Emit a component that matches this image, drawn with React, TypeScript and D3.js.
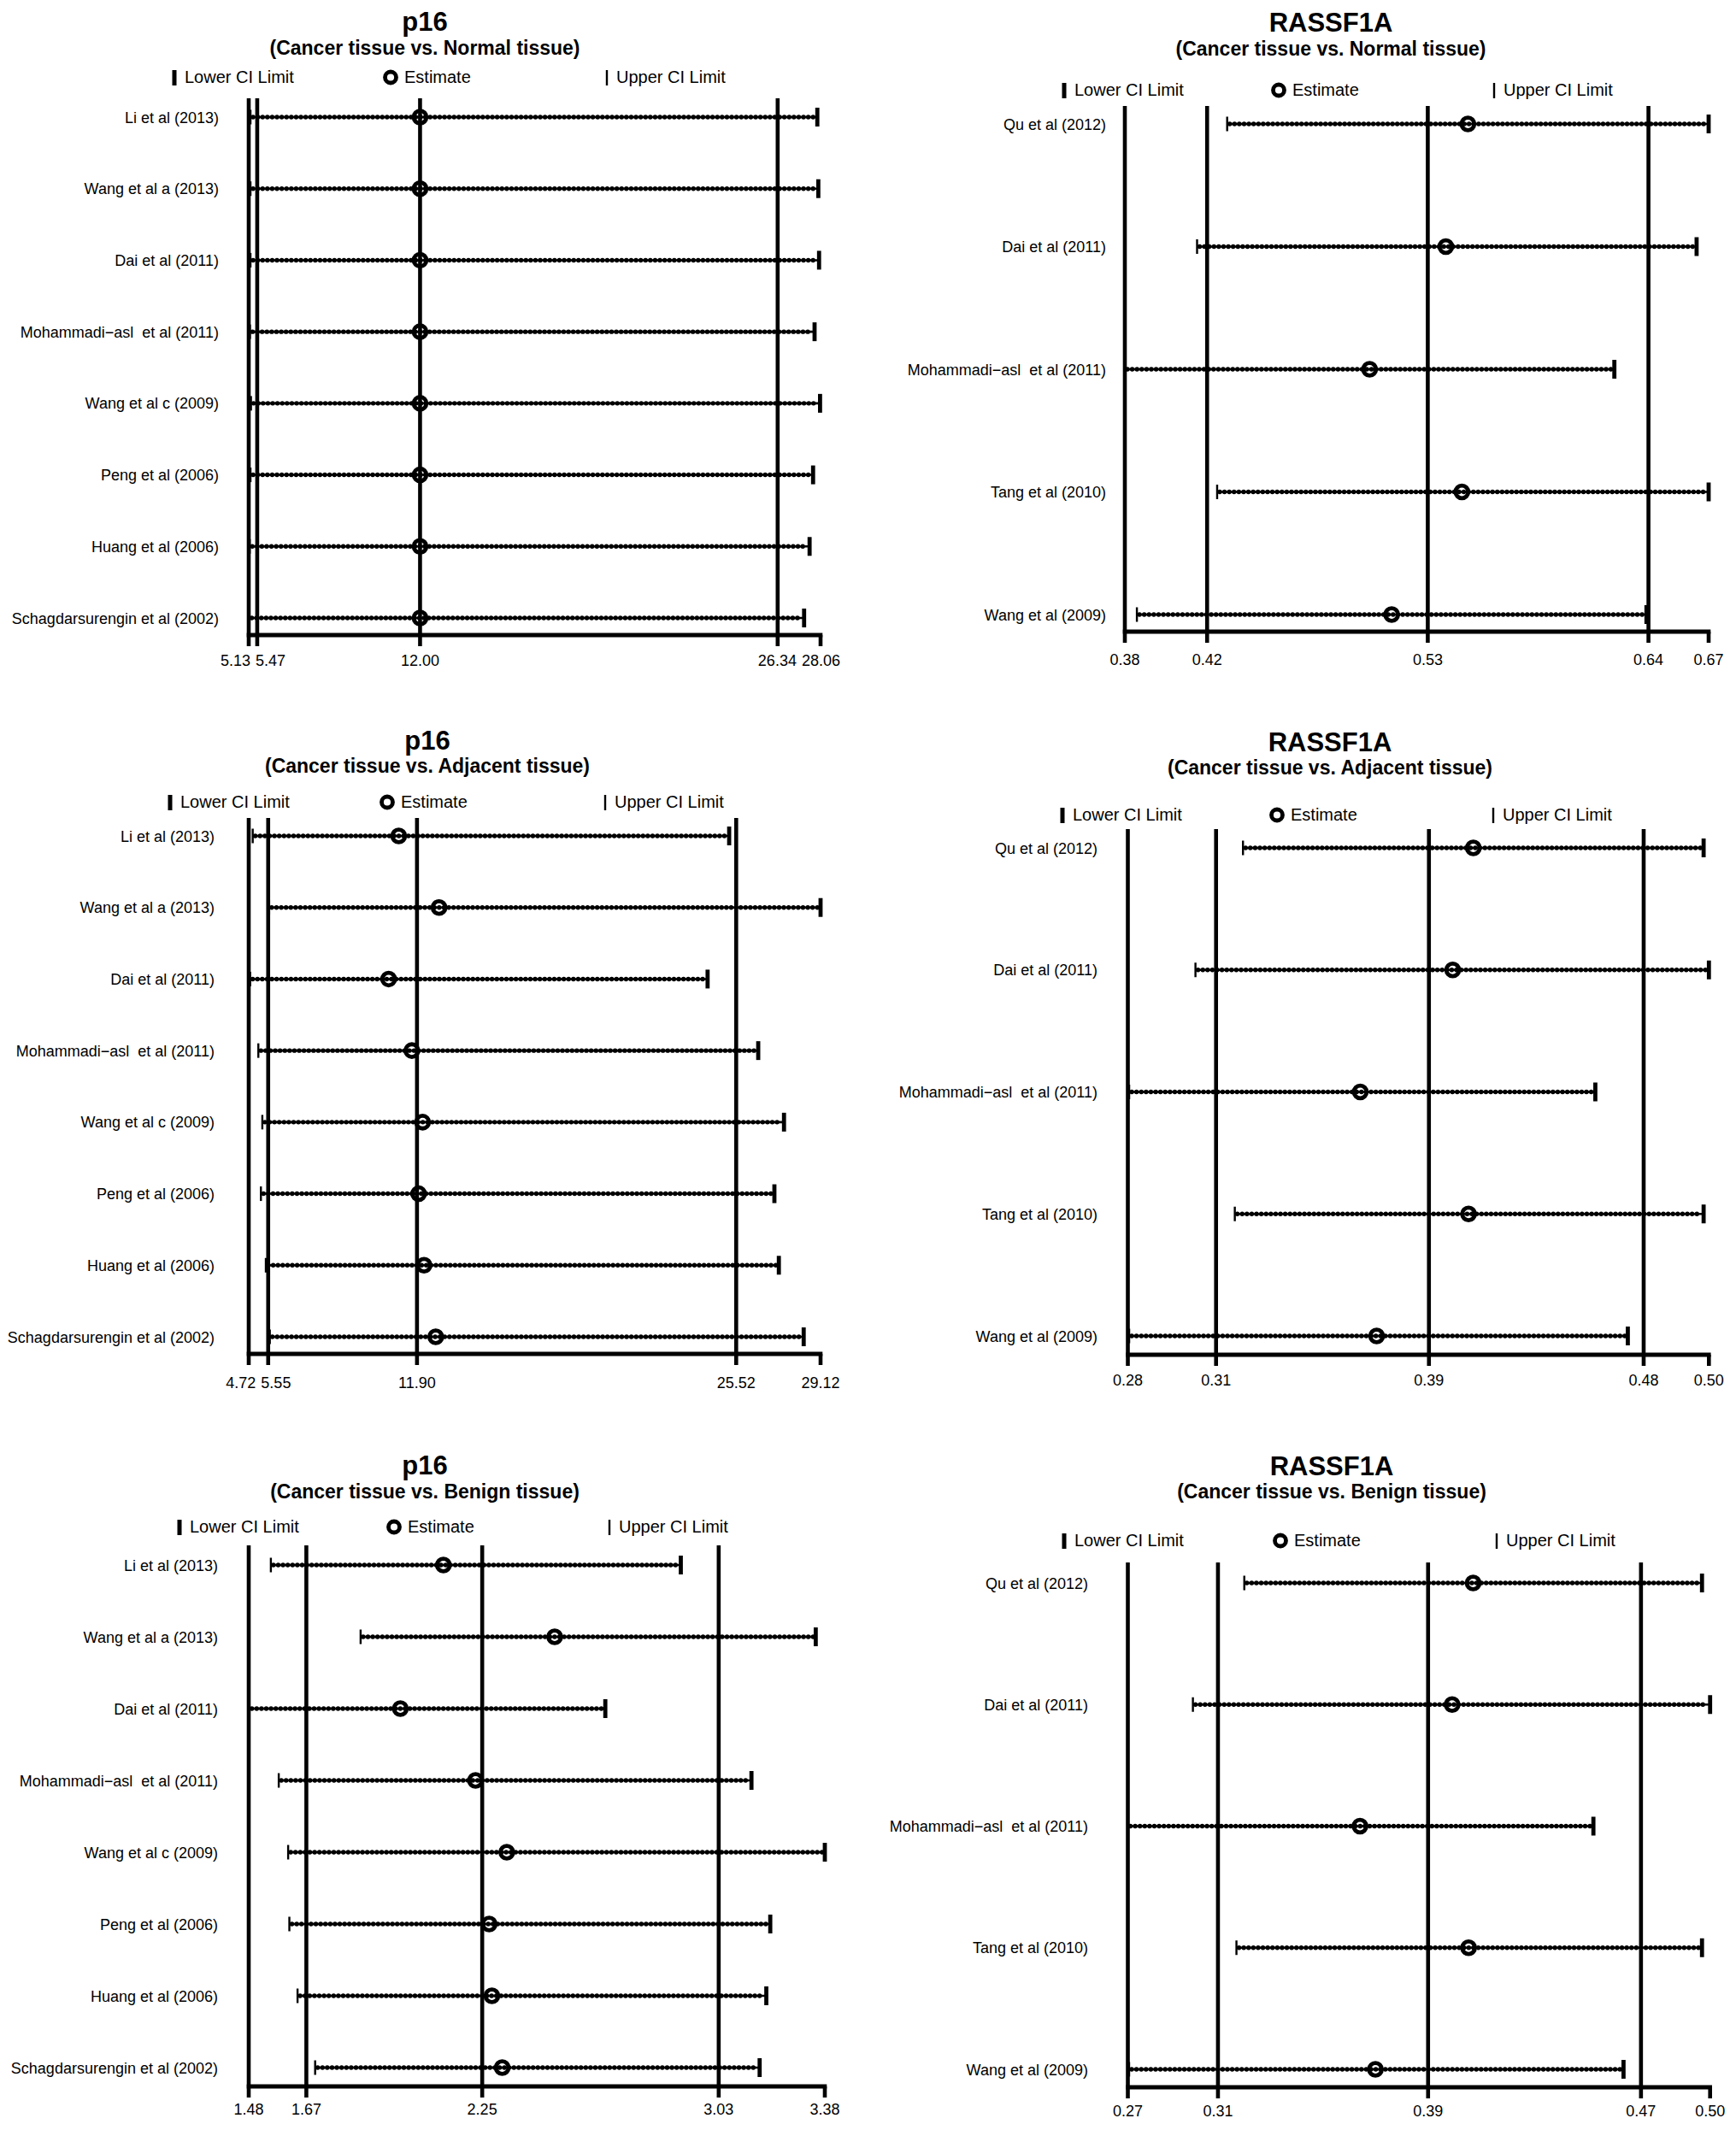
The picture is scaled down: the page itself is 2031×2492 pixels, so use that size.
import React from 'react';
import * as d3 from 'd3';

// ---------- data ----------
const p16Studies = [
  'Li et al (2013)',
  'Wang et al a (2013)',
  'Dai et al (2011)',
  'Mohammadi\u2212asl  et al (2011)',
  'Wang et al c (2009)',
  'Peng et al (2006)',
  'Huang et al (2006)',
  'Schagdarsurengin et al (2002)',
];
const rassf1aStudies = [
  'Qu et al (2012)',
  'Dai et al (2011)',
  'Mohammadi\u2212asl  et al (2011)',
  'Tang et al (2010)',
  'Wang et al (2009)',
];

// p16, cancer vs normal
const p16NormalLower = [5.2, 5.2, 5.2, 5.18, 5.22, 5.2, 5.17, 5.15];
const p16NormalEst = [12.0, 12.0, 12.0, 12.0, 12.0, 12.0, 12.0, 12.0];
const p16NormalUpper = [27.93, 27.97, 28.0, 27.82, 28.04, 27.76, 27.62, 27.4];
const p16NormalTicks = [5.13, 5.47, 12.0, 26.34, 28.06];

// RASSF1A, cancer vs normal
const rasNormalLower = [0.43, 0.415, 0.379, 0.425, 0.385];
const rasNormalEst = [0.55, 0.539, 0.501, 0.547, 0.512];
const rasNormalUpper = [0.67, 0.664, 0.623, 0.67, 0.639];
const rasNormalTicks = [0.379, 0.42, 0.53, 0.64, 0.67];

// p16, cancer vs adjacent
const p16AdjLower = [4.89, 5.59, 4.78, 5.13, 5.3, 5.24, 5.45, 5.62];
const p16AdjEst = [11.12, 12.84, 10.69, 11.68, 12.14, 11.97, 12.2, 12.7];
const p16AdjUpper = [25.22, 29.12, 24.3, 26.46, 27.56, 27.15, 27.34, 28.4];
const p16AdjTicks = [4.72, 5.55, 11.9, 25.52, 29.12];

// RASSF1A, cancer vs adjacent
const rasAdjLower = [0.3236, 0.3056, 0.2805, 0.3205, 0.2805];
const rasAdjEst = [0.4108, 0.403, 0.368, 0.409, 0.3742];
const rasAdjUpper = [0.498, 0.5, 0.457, 0.498, 0.4693];
const rasAdjTicks = [0.28, 0.3134, 0.394, 0.4753, 0.5];

// p16, cancer vs benign
const p16BenLower = [1.553, 1.849, 1.482, 1.579, 1.61, 1.614, 1.641, 1.699];
const p16BenEst = [2.122, 2.489, 1.98, 2.228, 2.331, 2.273, 2.282, 2.316];
const p16BenUpper = [2.905, 3.35, 2.656, 3.138, 3.38, 3.2, 3.187, 3.165];
const p16BenTicks = [1.48, 1.67, 2.25, 3.03, 3.38];

// RASSF1A, cancer vs benign
const rasBenLower = [0.316, 0.2957, 0.27, 0.3129, 0.2705];
const rasBenEst = [0.4064, 0.3981, 0.3617, 0.4046, 0.3678];
const rasBenUpper = [0.4968, 0.5, 0.4539, 0.4968, 0.4658];
const rasBenTicks = [0.27, 0.3056, 0.3886, 0.4727, 0.5];

const legendLabels = ['Lower CI Limit', 'Estimate', 'Upper CI Limit'];

// ---------- layout ----------
const FONT = "'Liberation Sans', Arial, Helvetica, sans-serif";
const W = 2031;
const H = 2492;

type Layout = {
  titleX: number; titleY: number; subY: number; legendY: number; marks: number[];
  lineTop: number; rowTop: number; rowBottom: number; axisY: number; tickLabelY: number;
  x0: number; x1: number; labelRight: number;
};

type Spec = {
  gene: string; comparison: string; studies: string[];
  lower: number[]; est: number[]; upper: number[]; ticks: number[]; layout: Layout;
};

const specs: Spec[] = [
  {
    gene: 'p16', comparison: '(Cancer tissue vs. Normal tissue)', studies: p16Studies,
    lower: p16NormalLower, est: p16NormalEst, upper: p16NormalUpper, ticks: p16NormalTicks,
    layout: { titleX: 497, titleY: 36, subY: 64, legendY: 97, marks: [204, 457, 710], lineTop: 115, rowTop: 137, rowBottom: 723, axisY: 743, tickLabelY: 779, x0: 291, x1: 960, labelRight: 256 },
  },
  {
    gene: 'RASSF1A', comparison: '(Cancer tissue vs. Normal tissue)', studies: rassf1aStudies,
    lower: rasNormalLower, est: rasNormalEst, upper: rasNormalUpper, ticks: rasNormalTicks,
    layout: { titleX: 1557, titleY: 37, subY: 65, legendY: 112, marks: [1245, 1496, 1748], lineTop: 124, rowTop: 145, rowBottom: 719, axisY: 739, tickLabelY: 778, x0: 1316, x1: 1999, labelRight: 1294 },
  },
  {
    gene: 'p16', comparison: '(Cancer tissue vs. Adjacent tissue)', studies: p16Studies,
    lower: p16AdjLower, est: p16AdjEst, upper: p16AdjUpper, ticks: p16AdjTicks,
    layout: { titleX: 500, titleY: 877, subY: 904, legendY: 945, marks: [199, 453, 708], lineTop: 957, rowTop: 978, rowBottom: 1564, axisY: 1584, tickLabelY: 1624, x0: 291, x1: 960, labelRight: 251 },
  },
  {
    gene: 'RASSF1A', comparison: '(Cancer tissue vs. Adjacent tissue)', studies: rassf1aStudies,
    lower: rasAdjLower, est: rasAdjEst, upper: rasAdjUpper, ticks: rasAdjTicks,
    layout: { titleX: 1556, titleY: 879, subY: 906, legendY: 960, marks: [1243, 1494, 1747], lineTop: 970, rowTop: 992, rowBottom: 1563, axisY: 1585, tickLabelY: 1621, x0: 1319.5, x1: 1999.3, labelRight: 1284 },
  },
  {
    gene: 'p16', comparison: '(Cancer tissue vs. Benign tissue)', studies: p16Studies,
    lower: p16BenLower, est: p16BenEst, upper: p16BenUpper, ticks: p16BenTicks,
    layout: { titleX: 497, titleY: 1725, subY: 1753, legendY: 1793, marks: [210, 461, 713], lineTop: 1808, rowTop: 1831, rowBottom: 2419, axisY: 2441, tickLabelY: 2474, x0: 291, x1: 965, labelRight: 255 },
  },
  {
    gene: 'RASSF1A', comparison: '(Cancer tissue vs. Benign tissue)', studies: rassf1aStudies,
    lower: rasBenLower, est: rasBenEst, upper: rasBenUpper, ticks: rasBenTicks,
    layout: { titleX: 1558, titleY: 1726, subY: 1753, legendY: 1809, marks: [1245, 1498, 1751], lineTop: 1828, rowTop: 1852, rowBottom: 2421, axisY: 2442, tickLabelY: 2476, x0: 1319.5, x1: 2000.7, labelRight: 1273 },
  },
];

const fmt = d3.format('.2f');
const TICK_FS = 18;

function labelWidth(s: string) {
  let w = 0;
  for (const c of s) w += c === '.' ? 0.278 : 0.556;
  return w * TICK_FS;
}

function Panel({ spec }: { spec: Spec }) {
  const L = spec.layout;
  const t = spec.ticks;
  const x = d3.scaleLinear().domain([t[0], t[t.length - 1]]).range([L.x0, L.x1]);
  const y = d3.scalePoint<string>().domain(spec.studies).range([L.rowTop, L.rowBottom]);

  // tick label positions with simple collision avoidance
  const labels = t.map((v) => fmt(v));
  const pos = t.map((v) => x(v));
  for (let i = 0; i < pos.length - 1; i++) {
    const need = (labelWidth(labels[i]) + labelWidth(labels[i + 1])) / 2 + 6;
    if (pos[i + 1] - pos[i] < need) {
      const mid = (pos[i] + pos[i + 1]) / 2;
      pos[i] = mid - need / 2;
      pos[i + 1] = mid + need / 2;
    }
  }

  const refLines = t.slice(0, t.length - 1);
  const lw = 4.6;

  return (
    <g>
      <text x={L.titleX} y={L.titleY} textAnchor="middle" fontFamily={FONT} fontWeight="bold" fontSize={31}>{spec.gene}</text>
      <text x={L.titleX} y={L.subY} textAnchor="middle" fontFamily={FONT} fontWeight="bold" fontSize={23}>{spec.comparison}</text>

      {/* legend */}
      <rect x={L.marks[0] - 2.5} y={L.legendY - 15} width={5} height={18} fill="#000" />
      <text x={L.marks[0] + 12} y={L.legendY} fontFamily={FONT} fontSize={20}>{legendLabels[0]}</text>
      <circle cx={L.marks[1]} cy={L.legendY - 6.5} r={6.5} fill="none" stroke="#000" strokeWidth={4.8} />
      <text x={L.marks[1] + 16} y={L.legendY} fontFamily={FONT} fontSize={20}>{legendLabels[1]}</text>
      <rect x={L.marks[2] - 1.2} y={L.legendY - 15} width={2.4} height={18} fill="#000" />
      <text x={L.marks[2] + 11} y={L.legendY} fontFamily={FONT} fontSize={20}>{legendLabels[2]}</text>

      {/* reference vertical lines */}
      {refLines.map((v, i) => (
        <line key={'r' + i} x1={x(v)} x2={x(v)} y1={L.lineTop} y2={L.axisY} stroke="#000" strokeWidth={lw} />
      ))}

      {/* axis */}
      <line x1={x(t[0]) - lw / 2} x2={x(t[t.length - 1]) + lw / 2} y1={L.axisY} y2={L.axisY} stroke="#000" strokeWidth={5} />
      {t.map((v, i) => (
        <line key={'t' + i} x1={x(v)} x2={x(v)} y1={L.axisY} y2={L.axisY + 13} stroke="#000" strokeWidth={lw} />
      ))}
      {t.map((v, i) => (
        <text key={'tl' + i} x={pos[i]} y={L.tickLabelY} textAnchor="middle" fontFamily={FONT} fontSize={TICK_FS}>{labels[i]}</text>
      ))}

      {/* rows */}
      {spec.studies.map((s, i) => {
        const yy = y(s) as number;
        const xl = x(spec.lower[i]);
        const xu = x(spec.upper[i]);
        const xe = x(spec.est[i]);
        return (
          <g key={'s' + i}>
            <text x={L.labelRight} y={yy + 6.5} textAnchor="end" fontFamily={FONT} fontSize={18} style={{ whiteSpace: 'pre' }}>{s}</text>
            <line x1={xl} x2={xu} y1={yy} y2={yy} stroke="#000" strokeWidth={2.6} />
            <line x1={xl + 3} x2={xu - 3} y1={yy} y2={yy} stroke="#000" strokeWidth={5.4} strokeDasharray="0 5.6" strokeLinecap="round" />
            <line x1={xl} x2={xl} y1={yy - 8.5} y2={yy + 8.5} stroke="#000" strokeWidth={2.4} />
            <line x1={xu} x2={xu} y1={yy - 11} y2={yy + 11} stroke="#000" strokeWidth={4.8} />
            <circle cx={xe} cy={yy} r={7.4} fill="none" stroke="#000" strokeWidth={4.8} />
          </g>
        );
      })}
    </g>
  );
}

export default function App() {
  return (
    <svg
      width={W}
      height={H}
      viewBox={`0 0 ${W} ${H}`}
      style={{ position: 'absolute', left: 0, top: 0, display: 'block', background: '#fff' }}
    >
      <rect x={0} y={0} width={W} height={H} fill="#fff" />
      {specs.map((s, i) => (
        <Panel key={i} spec={s} />
      ))}
    </svg>
  );
}
